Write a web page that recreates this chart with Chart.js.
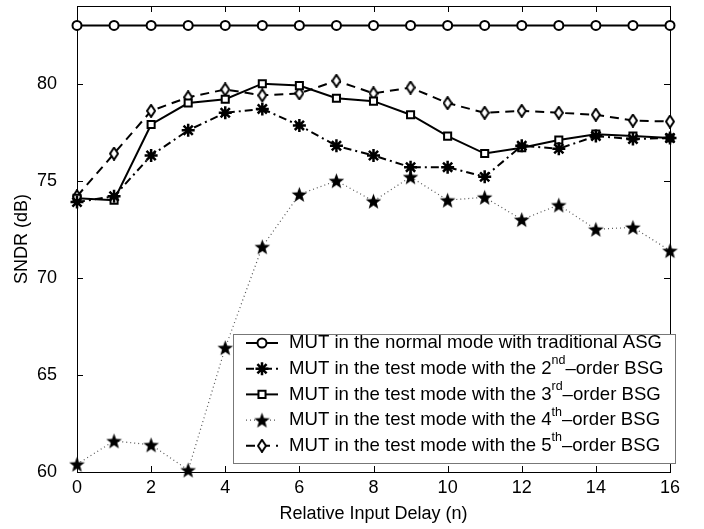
<!DOCTYPE html>
<html>
<head>
<meta charset="utf-8">
<script src="https://cdn.jsdelivr.net/npm/chart.js@4/dist/chart.umd.min.js"></script>
<style>html,body{margin:0;padding:0;background:#fff}</style>
</head>
<body>
<canvas id="canvas1" width="704" height="529"></canvas>
<script>
// relative input delay n
const delays = [0, 1, 2, 3, 4, 5, 6, 7, 8, 9, 10, 11, 12, 13, 14, 15, 16];

// SNDR values (dB)
const asgNormal = [83, 83, 83, 83, 83, 83, 83, 83, 83, 83, 83, 83, 83, 83, 83, 83, 83];
const bsg2nd = [73.9, 74.2, 76.3, 77.6, 78.5, 78.7, 77.85, 76.8, 76.3, 75.7, 75.7, 75.2, 76.8, 76.65, 77.3, 77.15, 77.2];
const bsg3rd = [74.1, 74.0, 77.9, 79.0, 79.2, 80.0, 79.9, 79.25, 79.1, 78.4, 77.3, 76.4, 76.7, 77.1, 77.4, 77.3, 77.2];
const bsg4th = [60.4, 61.6, 61.4, 60.1, 66.4, 71.6, 74.3, 75.0, 73.95, 75.2, 74.0, 74.15, 73.0, 73.75, 72.5, 72.6, 71.4];
const bsg5th = [74.2, 76.4, 78.6, 79.3, 79.7, 79.4, 79.5, 80.15, 79.5, 79.8, 79.0, 78.5, 78.6, 78.5, 78.4, 78.1, 78.05];

const yTicks = [60, 65, 70, 75, 80];
const xTicks = [0, 2, 4, 6, 8, 10, 12, 14, 16];

// legend text: [before, superscript, after]
const legendText = [
    ['MUT in the normal mode with traditional ASG', '', ''],
    ['MUT in the test mode with the 2', 'nd', '\u2013order BSG'],
    ['MUT in the test mode with the 3', 'rd', '\u2013order BSG'],
    ['MUT in the test mode with the 4', 'th', '\u2013order BSG'],
    ['MUT in the test mode with the 5', 'th', '\u2013order BSG']
];

const FONT = '"Liberation Sans", Arial, Helvetica, sans-serif';

// five pointed filled star marker
function makeStar(size) {
    const c = document.createElement('canvas');
    c.width = size; c.height = size;
    const g = c.getContext('2d');
    const cx = size / 2, cy = size / 2 + 0.8;
    const R = size / 2 - 0.3, r = R * 0.42;
    g.beginPath();
    for (let i = 0; i < 10; i++) {
        const a = -Math.PI / 2 + i * Math.PI / 5;
        const rr = i % 2 === 0 ? R : r;
        g.lineTo(cx + rr * Math.cos(a), cy + rr * Math.sin(a));
    }
    g.closePath();
    g.fillStyle = '#000';
    g.fill();
    return c;
}

// tall hollow diamond marker
function makeDiamond(w, h) {
    const c = document.createElement('canvas');
    c.width = w; c.height = h;
    const g = c.getContext('2d');
    g.beginPath();
    g.moveTo(w / 2, 1);
    g.lineTo(w - 1, h / 2);
    g.lineTo(w / 2, h - 1);
    g.lineTo(1, h / 2);
    g.closePath();
    g.fillStyle = '#fff';
    g.fill();
    g.lineWidth = 2;
    g.strokeStyle = '#000';
    g.stroke();
    return c;
}

const starImg = makeStar(17);
const diamondImg = makeDiamond(10, 14);

function pts(values) {
    return values.map((v, i) => ({x: delays[i], y: v}));
}

// matlab style box + inward ticks
const boxPlugin = {
    id: 'boxTicks',
    beforeDatasetsDraw(chart) {
        const {ctx, chartArea: a, scales} = chart;
        ctx.save();
        ctx.strokeStyle = '#000';
        ctx.lineWidth = 1;
        ctx.beginPath();
        xTicks.forEach(t => {
            const x = Math.round(scales.x.getPixelForValue(t)) + 0.5;
            ctx.moveTo(x, a.bottom); ctx.lineTo(x, a.bottom - 6);
            ctx.moveTo(x, a.top); ctx.lineTo(x, a.top + 6);
        });
        yTicks.forEach(t => {
            const y = Math.round(scales.y.getPixelForValue(t)) + 0.5;
            ctx.moveTo(a.left, y); ctx.lineTo(a.left + 6, y);
            ctx.moveTo(a.right, y); ctx.lineTo(a.right - 6, y);
        });
        ctx.stroke();
        ctx.strokeRect(Math.round(a.left) + 0.5, Math.round(a.top) + 0.5,
            Math.round(a.right - a.left), Math.round(a.bottom - a.top));
        ctx.restore();
    }
};

// legend with superscripts, bottom right inside the plot
const legendPlugin = {
    id: 'supLegend',
    afterDatasetsDraw(chart) {
        const ctx = chart.ctx;
        const bx = 233, by = 334, bw = 442, bh = 129;
        ctx.save();
        ctx.fillStyle = '#fff';
        ctx.fillRect(bx, by, bw, bh);
        ctx.strokeStyle = '#777';
        ctx.lineWidth = 1;
        ctx.strokeRect(bx + 0.5, by + 0.5, bw, bh);
        chart.data.datasets.forEach((ds, i) => {
            const y = 343 + i * 25.7;
            ctx.save();
            ctx.strokeStyle = ds.borderColor;
            ctx.lineWidth = ds.borderWidth;
            ctx.setLineDash(ds.borderDash || []);
            ctx.beginPath();
            ctx.moveTo(246, y);
            ctx.lineTo(278, y);
            ctx.stroke();
            ctx.restore();
            const ps = ds.pointStyle;
            if (ps instanceof HTMLCanvasElement) {
                ctx.drawImage(ps, 262 - ps.width / 2, y - ps.height / 2);
            } else {
                ctx.save();
                ctx.fillStyle = ds.pointBackgroundColor;
                ctx.strokeStyle = ds.pointBorderColor;
                ctx.lineWidth = ds.pointBorderWidth;
                Chart.helpers.drawPoint(ctx, {pointStyle: ps, radius: ds.pointRadius, rotation: 0, borderWidth: ds.pointBorderWidth}, 262, y);
                ctx.restore();
            }
            const [a, sup, b] = legendText[i];
            ctx.fillStyle = '#000';
            ctx.textBaseline = 'middle';
            ctx.font = '18.6px ' + FONT;
            let x = 289;
            ctx.fillText(a, x, y);
            x += ctx.measureText(a).width;
            if (sup) {
                ctx.font = '12.5px ' + FONT;
                ctx.fillText(sup, x, y - 8);
                x += ctx.measureText(sup).width;
                ctx.font = '18.6px ' + FONT;
                ctx.fillText(b, x, y);
            }
        });
        ctx.restore();
    }
};

const ctx1 = document.getElementById('canvas1').getContext('2d');

const myChart1 = new Chart(ctx1, {
    type: 'line',
    data: {
        datasets: [{
            label: 'ASG normal',
            data: pts(asgNormal),
            borderColor: '#000',
            borderWidth: 2,
            pointStyle: 'circle',
            pointRadius: 4.5,
            pointBackgroundColor: '#fff',
            pointBorderColor: '#000',
            pointBorderWidth: 2
        }, {
            label: '2nd order BSG',
            data: pts(bsg2nd),
            borderColor: '#000',
            borderWidth: 2,
            borderDash: [8, 4, 2, 4],
            pointStyle: 'star',
            pointRadius: 6.5,
            pointBackgroundColor: '#000',
            pointBorderColor: '#000',
            pointBorderWidth: 2.5
        }, {
            label: '3rd order BSG',
            data: pts(bsg3rd),
            borderColor: '#000',
            borderWidth: 2,
            pointStyle: 'rect',
            pointRadius: 5,
            pointBackgroundColor: '#fff',
            pointBorderColor: '#000',
            pointBorderWidth: 2
        }, {
            label: '4th order BSG',
            data: pts(bsg4th),
            borderColor: '#555',
            borderWidth: 1.2,
            borderDash: [1, 3],
            pointStyle: starImg,
            pointRadius: 8
        }, {
            label: '5th order BSG',
            data: pts(bsg5th),
            borderColor: '#000',
            borderWidth: 2,
            borderDash: [9, 6],
            pointStyle: diamondImg,
            pointRadius: 7
        }].map(d => Object.assign({clip: false, tension: 0, fill: false}, d))
    },
    options: {
        responsive: false,
        animation: false,
        events: [],
        layout: {autoPadding: false, padding: {top: 6, right: 34, left: 0, bottom: 0}},
        plugins: {legend: {display: false}, tooltip: {enabled: false}},
        scales: {
            x: {
                type: 'linear',
                min: 0,
                max: 16,
                afterFit: s => { s.height = 57; s.paddingLeft = 0; s.paddingRight = 0; },
                afterBuildTicks: s => { s.ticks = xTicks.map(v => ({value: v})); },
                grid: {display: false},
                border: {display: false},
                ticks: {color: '#000', font: {family: FONT, size: 18}, padding: -3, maxRotation: 0},
                title: {display: true, text: 'Relative Input Delay (n)', color: '#000',
                    font: {family: FONT, size: 18}, padding: {top: 4, bottom: 4}}
            },
            y: {
                type: 'linear',
                min: 60,
                max: 84,
                afterFit: s => { s.width = 77; s.paddingTop = 0; s.paddingBottom = 0; },
                afterBuildTicks: s => { s.ticks = yTicks.map(v => ({value: v})); },
                grid: {display: false},
                border: {display: false},
                ticks: {color: '#000', font: {family: FONT, size: 18}, padding: 12},
                title: {display: true, text: 'SNDR (dB)', color: '#000',
                    font: {family: FONT, size: 18}, padding: {top: 11, bottom: 4}}
            }
        }
    },
    plugins: [boxPlugin, legendPlugin]
});
</script>
</body>
</html>
